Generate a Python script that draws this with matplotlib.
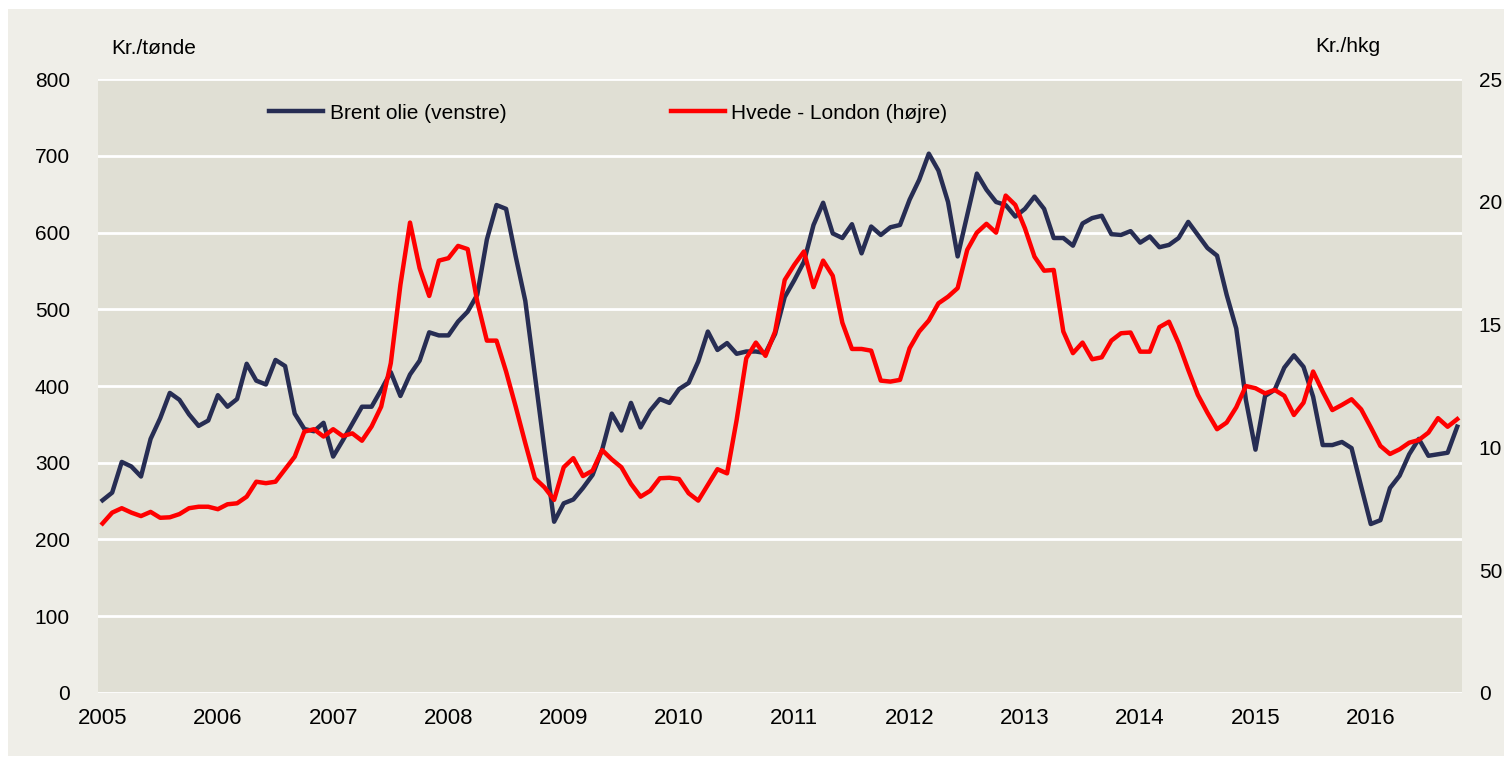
import matplotlib
matplotlib.use("Agg")
import matplotlib.pyplot as plt
from matplotlib.lines import Line2D
from matplotlib.patches import Rectangle

plt.rcParams["font.family"] = ["Liberation Sans", "DejaVu Sans"]

# monthly, Jan 2005 - Oct 2016
brent = [
    251, 261, 301, 295, 282, 331, 358, 391, 382, 363, 348, 355,
    388, 373, 383, 429, 407, 402, 434, 426, 364, 344, 341, 352,
    308, 329, 351, 373, 373, 395, 418, 387, 415, 433, 470, 466,
    466, 484, 497, 519, 591, 636, 631, 569, 511, 414, 317, 223,
    247, 252, 267, 284, 317, 364, 342, 378, 346, 368, 383, 378,
    396, 404, 432, 471, 447, 456, 442, 445, 445, 443, 468, 516,
    538, 562, 610, 639, 599, 593, 611, 573, 608, 597, 607, 610,
    643, 669, 703, 681, 640, 569, 623, 677, 656, 640, 636, 621,
    631, 647, 631, 593, 593, 583, 612, 619, 622, 598, 597, 602,
    587, 595, 581, 584, 593, 614, 597, 580, 570, 519, 475, 382,
    317, 387, 395, 424, 440, 425, 386, 323, 323, 327, 319, 269,
    220, 225, 267, 283, 311, 331, 309, 311, 313, 347,
]
hvede = [
    6.90, 7.34, 7.52, 7.34, 7.20, 7.37, 7.13, 7.15, 7.28, 7.52, 7.58, 7.58,
    7.48, 7.68, 7.72, 7.99, 8.60, 8.54, 8.60, 9.11, 9.62, 10.64, 10.74, 10.44,
    10.74, 10.46, 10.57, 10.27, 10.85, 11.66, 13.43, 16.62, 19.16, 17.30, 16.17, 17.61,
    17.71, 18.21, 18.08, 15.94, 14.35, 14.35, 13.09, 11.66, 10.17, 8.74, 8.37, 7.86,
    9.19, 9.56, 8.83, 9.05, 9.89, 9.51, 9.19, 8.51, 7.99, 8.23, 8.74, 8.76,
    8.71, 8.13, 7.83, 8.47, 9.11, 8.94, 11.12, 13.63, 14.27, 13.73, 14.72, 16.82,
    17.44, 17.98, 16.53, 17.61, 16.99, 15.08, 14.01, 14.01, 13.94, 12.72, 12.68, 12.75,
    14.04, 14.72, 15.17, 15.87, 16.14, 16.49, 18.05, 18.75, 19.11, 18.75, 20.26, 19.88,
    18.93, 17.77, 17.20, 17.23, 14.72, 13.84, 14.27, 13.59, 13.67, 14.35, 14.65, 14.68,
    13.90, 13.90, 14.90, 15.12, 14.24, 13.16, 12.14, 11.41, 10.74, 11.01, 11.63, 12.50,
    12.41, 12.20, 12.34, 12.10, 11.32, 11.82, 13.09, 12.27, 11.52, 11.73, 11.96, 11.55,
    10.82, 10.06, 9.73, 9.92, 10.19, 10.30, 10.60, 11.19, 10.84, 11.15,
]
years = [str(y) for y in range(2005, 2017)]
left_ticks = [0, 100, 200, 300, 400, 500, 600, 700, 800]
right_ticks = [0, 5, 10, 15, 20, 25]
right_labels = ["0", "50", "10", "15", "20", "25"]

navy = "#272D53"
red = "#FF0000"

fig = plt.figure(figsize=(15.04, 7.58), dpi=100, facecolor="white")
fig.patches.append(Rectangle((8 / 1504, 0.002), 1, 1 - 9 / 758 - 0.002,
                             transform=fig.transFigure, facecolor="#EFEEE8",
                             edgecolor="none", zorder=-10))

ax = fig.add_axes([0.065, 0.0861, 0.9071, 0.8093])
ax.set_facecolor("#E0DFD4")
months = list(range(len(brent)))
ax.plot(months, brent, color=navy, lw=3.2, solid_joinstyle="round")
ax.set_xlim(-0.5, len(brent) - 0.5)
ax.set_ylim(0, 800)
ax.set_yticks(left_ticks)
ax.set_xticks(range(0, 12 * len(years), 12))
ax.set_xticklabels(years)
ax.grid(axis="y", color="white", lw=2)
ax.set_axisbelow(True)
ax.tick_params(axis="both", length=0, labelsize=15, colors="black")
ax.tick_params(axis="y", pad=20)
ax.tick_params(axis="x", pad=11, labelsize=16)
for s in ax.spines.values():
    s.set_visible(False)

ax2 = ax.twinx()
ax2.plot(months, hvede, color=red, lw=3.2, solid_joinstyle="round")
ax2.set_ylim(0, 25)
ax2.set_yticks(right_ticks)
ax2.set_yticklabels(right_labels)
ax2.tick_params(axis="y", length=0, labelsize=15, pad=12)
for s in ax2.spines.values():
    s.set_visible(False)

handles = [Line2D([], [], color=navy, lw=3.2), Line2D([], [], color=red, lw=3.2)]
ax2.legend(handles, ["Brent olie (venstre)", "Hvede - London (højre)"], ncol=2,
           loc="center left", bbox_to_anchor=(0.1256, 0.945), frameon=False,
           fontsize=15, handlelength=2.6, handletextpad=0.3, columnspacing=7.9,
           borderpad=0, borderaxespad=0)

fig.text(111 / 1504, 1 - 49 / 758, "Kr./tønde", fontsize=15, va="center", ha="left")
fig.text(1380 / 1504, 1 - 47 / 758, "Kr./hkg", fontsize=15, va="center", ha="right")

fig.savefig("out.png", dpi=100, facecolor="white")
